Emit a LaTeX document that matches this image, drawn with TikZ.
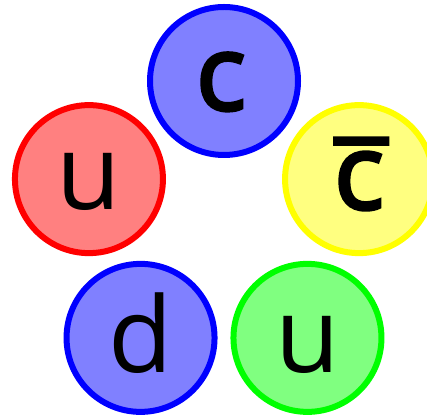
\documentclass[tikz,border=0pt]{standalone}
\usepackage{fontspec}
\setmainfont{Open Sans}
\newfontfamily\semibf[FakeBold=3]{Open Sans}
\usetikzlibrary{calc}
\definecolor{bluefill}{HTML}{8080FF}
\definecolor{bluedraw}{HTML}{0000FF}
\definecolor{redfill}{HTML}{FF8080}
\definecolor{reddraw}{HTML}{FF0000}
\definecolor{yellowfill}{HTML}{FFFF80}
\definecolor{yellowdraw}{HTML}{FFFF00}
\definecolor{greenfill}{HTML}{80FF80}
\definecolor{greendraw}{HTML}{00FF00}
\tikzset{
  quark/.style={circle, minimum size=148pt, inner sep=0pt, line width=6pt},
  qlabel/.style={anchor=base, inner sep=0pt, font=\fontsize{105pt}{110pt}\selectfont, text=black}
}
\begin{document}
\begin{tikzpicture}[x=1pt,y=1pt]
\useasboundingbox (0,0) rectangle (427,417);
\coordinate (ctr) at (224,194);
\node[quark, fill=bluefill, draw=bluedraw] (top) at ($(ctr)+(90:142)$) {};
\node[quark, fill=redfill, draw=reddraw] (left) at ($(ctr)+(162:142)$) {};
\node[quark, fill=yellowfill, draw=yellowdraw] (right) at ($(ctr)+(18:142)$) {};
\node[quark, fill=bluefill, draw=bluedraw] (bl) at ($(ctr)+(234:142)$) {};
\node[quark, fill=greenfill, draw=greendraw] (br) at ($(ctr)+(306:142)$) {};
\node[qlabel] (ttop) at ([xshift=-3pt,yshift=-29pt]top.center) {\semibf c};
\node[qlabel] (tleft) at ([yshift=-30pt]left.center) {u};
\node[qlabel] (tright) at ([yshift=-30pt]right.center) {\semibf\makebox[0pt][l]{\raisebox{-15pt}{\kern1pt ¯}}c};
\node[qlabel] (tbl) at ([yshift=-35pt]bl.center) {d};
\node[qlabel] (tbr) at ([yshift=-35pt]br.center) {u};
\end{tikzpicture}
\end{document}
